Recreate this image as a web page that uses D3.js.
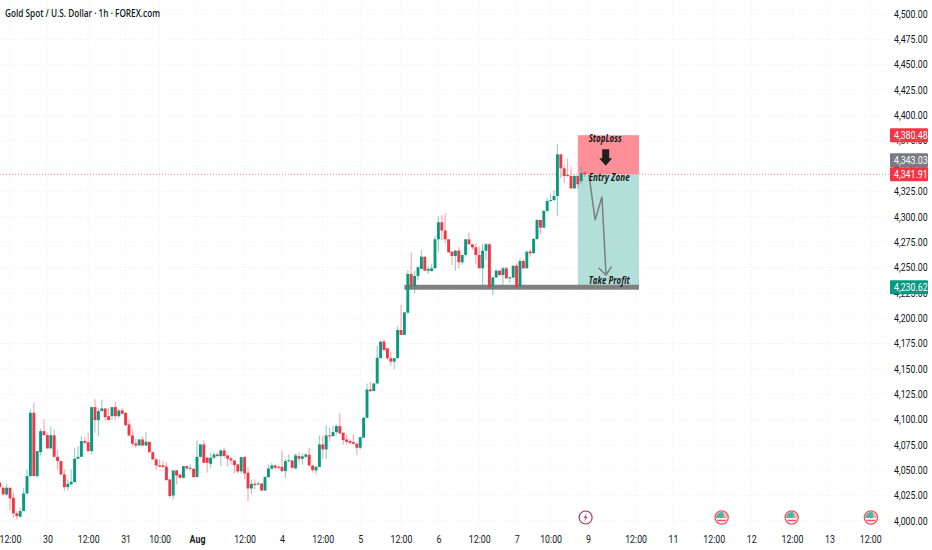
<!DOCTYPE html>
<html><head><meta charset="utf-8">
<script src="https://d3js.org/d3.v7.min.js"></script>
<style>
html,body{margin:0;padding:0;background:#fff;overflow:hidden}
svg{display:block}
.ax text{font-family:"Roboto","Open Sans",sans-serif;font-size:10px;fill:#131722}
.note{font-family:"Open Sans",sans-serif;font-style:italic;font-weight:700;font-size:10px;fill:#1a1a1a}
</style></head><body>
<svg id="c" width="932" height="550"></svg>
<script>
const title = "Gold Spot / U.S. Dollar · 1h · FOREX.com";
const firstIndex = -3;
const opens = [4037.7,4032.8,4026.2,4032.8,4022.9,4007.5,4004.2,4009.8,4027.2,4044.3,4106.7,4044.3,4067.9,4088.6,4084.7,4071.6,4084.4,4063.3,4059.1,4045.9,4033.4,4036.1,4038.4,4061.4,4063.3,4078.8,4077.8,4068.9,4112.3,4099.5,4108.4,4111,4103.4,4103.4,4112.3,4103.4,4109,4106.7,4095.2,4084.4,4076.5,4074.5,4080.4,4074.5,4078.1,4067.9,4060.7,4054.8,4054.8,4053.5,4041,4025.2,4049.9,4045.9,4042.6,4054.1,4051.5,4051.5,4043.3,4063.3,4075.5,4062.4,4056.4,4062.4,4065.6,4064,4069.6,4064.7,4061.7,4059.7,4055.8,4048.9,4063,4047.6,4032.1,4036.7,4036.4,4037,4030.1,4043.3,4051.5,4054.8,4053.5,4053.5,4049.2,4059.4,4059.7,4051.8,4064,4061.4,4063.3,4065.3,4054.8,4049.9,4053.2,4075.5,4070.6,4084.4,4083.7,4087.7,4093.6,4087,4080.4,4078.8,4077.8,4076.2,4072.2,4082.1,4101.8,4129.7,4128.1,4135.6,4160.5,4176.9,4170.3,4160.5,4157.2,4160.5,4188.4,4183.5,4205.5,4243.6,4231.8,4241.7,4248.6,4260.7,4246.9,4246.6,4249.2,4277.8,4294.6,4286.4,4277.8,4265.7,4261.4,4266.6,4255.1,4262.4,4277.8,4272.9,4269.9,4262.4,4249.2,4266.6,4272.9,4231.8,4240.3,4246.9,4242.6,4249.2,4239.1,4240,4251.8,4231.8,4256.4,4249.2,4265.7,4264,4278.1,4296.9,4289.3,4305.8,4315.6,4316.5,4320.5,4361.6,4347.8,4341.2,4340.2,4328,4340.2,4335.3,4343.5];
const highs = [4039.3,4033.8,4036.7,4032.8,4027.8,4009.8,4013.1,4032.8,4050.9,4110,4116.6,4068.9,4090.9,4100.2,4087,4092.9,4090.3,4070.6,4059.1,4050.9,4041,4050.9,4072.2,4073.9,4083.7,4083.1,4087,4112.3,4120.5,4111.7,4119.9,4111,4111.7,4112.3,4117.6,4111,4111.7,4106.7,4100.2,4090.9,4081.1,4081.1,4083.1,4087.7,4078.1,4067.9,4062.4,4060.7,4059.7,4058.1,4041,4049.9,4050.9,4045.9,4054.1,4054.8,4055.8,4052.5,4079.4,4075.5,4079.4,4063.3,4067.3,4067.9,4067.3,4070.6,4072.2,4064.7,4063,4059.7,4055.8,4063.3,4064,4053.5,4041,4041,4038.7,4037,4044.3,4055.8,4057.4,4055.8,4054.8,4069.6,4061.4,4065.6,4059.7,4066.6,4067.9,4066.6,4066.6,4072.2,4054.8,4054.1,4084.4,4084.4,4094.2,4091.9,4093.6,4095.2,4106.7,4087,4085.4,4080.4,4085.4,4077.1,4082.7,4102.8,4135.6,4137,4136.3,4172.6,4177.9,4179.2,4170.3,4167,4160.5,4192.4,4213,4205.8,4247.6,4265,4246.9,4251.8,4267.3,4260.7,4250.9,4253.5,4281.1,4300.2,4301.8,4303.5,4277.8,4265.7,4267.3,4270.6,4262.4,4277.8,4284.4,4272.9,4273.9,4270.6,4273.9,4274.5,4273.9,4241,4248.2,4247.6,4250.9,4250.9,4241,4251.8,4254.1,4259.1,4258.1,4265.7,4268.3,4278.8,4297.5,4296.9,4306.7,4318.2,4323.1,4326.4,4371.8,4361.6,4351.7,4357.6,4349.4,4341.9,4341.2,4349.4,4344.5];
const lows = [4032.8,4025.5,4024.6,4010.7,4003.2,4001.5,4004.2,4009.8,4026.2,4043.6,4043.6,4042.6,4064.7,4083.7,4071.6,4071.6,4062.4,4050.9,4044.9,4029.5,4030.1,4036.1,4037.7,4061.4,4063.3,4075.5,4068.3,4065.6,4087,4083.7,4108.4,4099.2,4099.5,4099.5,4100.2,4101.8,4105.1,4093.6,4083.1,4073.9,4072.2,4073.9,4073.9,4073.9,4067.3,4060.1,4050.9,4053.5,4052.5,4040,4022.9,4021.3,4036.1,4042,4042,4049.2,4049.2,4042.6,4043.3,4062.4,4056.8,4047.6,4052.5,4060.7,4063.3,4054.1,4062.4,4053.5,4055.8,4046.9,4046.9,4046.6,4041.6,4019.6,4026.2,4031.1,4035.1,4029.5,4030.1,4042.6,4050.9,4050.9,4051.5,4048.2,4042.6,4057.4,4051.5,4051.8,4057.4,4055.8,4062.4,4054.1,4047.6,4045.9,4053.2,4061.4,4061.4,4078.8,4083.1,4085.4,4085.4,4075.5,4075.5,4075.5,4075.5,4065.6,4070.6,4082.1,4101.1,4127.1,4128.1,4135.6,4160.5,4167,4158.8,4153.2,4149.9,4160.5,4183.5,4183.5,4203.9,4231.8,4224.6,4237.1,4248.6,4246.9,4243.6,4245.9,4249.2,4264.7,4277.2,4273.9,4264,4252.5,4246.9,4249.2,4252.5,4260.7,4272.2,4267.3,4253.5,4249.2,4230.5,4257.4,4229.5,4222.9,4239.4,4241.7,4232.8,4238.7,4234.4,4239.4,4229.5,4231.1,4248.2,4249.2,4260.7,4264,4277.2,4282.7,4288.7,4305.1,4314.9,4315.6,4301.1,4337.9,4333,4339.6,4328,4328,4328,4332.6,4339.6];
const closes = [4033.4,4026.2,4032.8,4022.3,4007.5,4004.8,4009.8,4027.2,4044.3,4106.7,4044.3,4068.9,4088.6,4084.7,4071.6,4084.7,4063.3,4059.1,4045.9,4033.4,4036.7,4038.7,4061.4,4063.3,4078.8,4077.1,4068.9,4112.3,4099.5,4108.4,4111,4102.5,4099.5,4112.3,4103.4,4109,4105.7,4094.6,4084.4,4076.2,4074.5,4080.4,4074.5,4078.1,4067.9,4060.7,4054.8,4053.5,4053.2,4040.3,4024.6,4049.9,4044.9,4042.6,4054.1,4051.8,4052.5,4043.3,4063.3,4075.5,4057.4,4057.4,4062.4,4065.6,4064,4069.6,4064,4061.4,4059.7,4055.1,4048.9,4063,4046.9,4032.1,4036.7,4035.4,4037,4030.1,4043.3,4051.8,4054.8,4052.5,4052.8,4049.2,4059.1,4060,4052.5,4064.7,4061.4,4063.7,4065.6,4054.8,4050.2,4053.5,4075.5,4070.6,4084.4,4083.7,4087.7,4093.6,4086.4,4079.8,4078.1,4077.1,4076.2,4072.2,4082.7,4101.8,4129.7,4128.1,4135.6,4161,4176.9,4168.7,4160.5,4157.2,4160.5,4188.4,4183.5,4205.8,4243.6,4231.8,4241.7,4250.2,4260.7,4246.9,4248.6,4249.2,4277.8,4294.6,4286.4,4277.8,4265,4261.4,4266.6,4255.1,4262.4,4277.8,4272.9,4269.9,4262.4,4249.2,4266.6,4272.9,4230.5,4240.3,4246.9,4242.6,4249.2,4239.4,4240.3,4251.8,4230.5,4256.4,4249.2,4265.7,4264,4278.1,4296.9,4289.3,4305.8,4315.6,4316.5,4320.5,4361.6,4347.8,4340.2,4340.2,4328,4340.2,4332,4342.8,4341.9];

const priceTicks = d3.range(4000, 4501, 25);
const timeTickIndex = [0,11,23,34,44,55,69,80,92,103,115,126,138,149,159,170,184,195,207,218,230,241,253];
const timeTickLabels = ["12:00","30","12:00","31","10:00","Aug","12:00","4","12:00","5","12:00","6","12:00","7","10:00","9","12:00","11","12:00","12","12:00","13","12:00"];

const stopPrice = 4380.48, entryPrice = 4341.91, targetPrice = 4230.62, lastPrice = 4341.91, smaPrice = 4343.03;
const boxStart = 167, boxEnd = 185, supportStart = 116;
const pathIndex = [170.3,172.1,174.1,175.3];
const pathPrice = [4341.2,4296.8,4319.8,4242.6];
const headIndex = [173.1,175.3,176.9];
const headPrice = [4249.8,4242.6,4250.8];
const flagEvents = [209.3,229.9,253.2];
const boltEvents = [169.3];

const GREEN="#089981", RED="#f23645", GRID="#eceef3";
const svg=d3.select("#c");
const x=d3.scaleLinear().domain([0,100]).range([10,350]);
const y=d3.scaleLinear().domain([4000,4500]).range([521,14]);
const plotR=890, plotB=529;
const squeeze=(sel,f)=>sel.each(function(){
  this.setAttribute("textLength",this.getComputedTextLength()*f);
  this.setAttribute("lengthAdjust","spacingAndGlyphs");
});

const gridG=svg.append("g");
gridG.selectAll(".h").data(priceTicks).join("line").attr("x1",0).attr("x2",plotR)
 .attr("y1",d=>y(d)).attr("y2",d=>y(d)).attr("stroke",GRID).attr("stroke-dasharray","1 2");
gridG.selectAll(".v").data(timeTickIndex).join("line").attr("y1",0).attr("y2",plotB)
 .attr("x1",d=>x(d)).attr("x2",d=>x(d)).attr("stroke",GRID).attr("stroke-dasharray","1 2");

// position box
svg.append("rect").attr("x",x(boxStart)).attr("width",x(boxEnd)-x(boxStart)).attr("y",y(stopPrice)).attr("height",y(entryPrice)-y(stopPrice)).attr("fill","#fe8f98");
svg.append("rect").attr("x",x(boxStart)).attr("width",x(boxEnd)-x(boxStart)).attr("y",y(entryPrice)).attr("height",y(targetPrice)-y(entryPrice)).attr("fill","#b2e0d8");
// support
svg.append("line").attr("x1",x(supportStart)).attr("x2",x(boxEnd)).attr("y1",y(targetPrice)).attr("y2",y(targetPrice)).attr("stroke","#808080").attr("stroke-width",5);

const bars=opens.map((o,k)=>({i:firstIndex+k,o,h:highs[k],l:lows[k],c:closes[k]}));
const col=d=>d.c>=d.o?GREEN:RED;
const cg=svg.append("g");
cg.selectAll("line").data(bars).join("line").attr("x1",d=>x(d.i)).attr("x2",d=>x(d.i))
 .attr("y1",d=>y(d.h)).attr("y2",d=>y(d.l)).attr("stroke",col).attr("stroke-width",1.2).attr("stroke-opacity",.42);
cg.selectAll("rect").data(bars).join("rect").attr("x",d=>x(d.i)-1.45).attr("width",2.9)
 .attr("y",d=>y(Math.max(d.o,d.c))).attr("height",d=>Math.max(1,Math.abs(y(d.o)-y(d.c)))).attr("fill",col);

// last price line
svg.append("line").attr("x1",0).attr("x2",plotR).attr("y1",y(lastPrice)).attr("y2",y(lastPrice)).attr("stroke",RED).attr("stroke-opacity",.6).attr("stroke-dasharray","1 2");

// drawn path
const ln=d3.line().x(d=>x(d[0])).y(d=>y(d[1]));
svg.append("path").attr("d",ln(pathIndex.map((d,k)=>[d,pathPrice[k]]))).attr("fill","none").attr("stroke","#7d7d7d").attr("stroke-width",1.5);
svg.append("path").attr("d",ln(headIndex.map((d,k)=>[d,headPrice[k]]))).attr("fill","none").attr("stroke","#7d7d7d").attr("stroke-width",1.5);

// black arrow
const ax=x(175.2), at=y(stopPrice)+14, am=at+9, ab=at+16.5;
svg.append("path").attr("d",`M${ax-3.5},${at}H${ax+3.5}V${am}H${ax+6.5}L${ax},${ab}L${ax-6.5},${am}H${ax-3.5}Z`).attr("fill","#1f1f1f");

const noteX=x(170.2);
const notes=[["StopLoss",stopPrice,6.5,33],["Entry Zone",entryPrice,7,41],["Take Profit",targetPrice,-3.5,41]];
notes.forEach(([t,p,dy,w])=>{
 svg.append("text").attr("class","note").attr("x",noteX).attr("y",y(p)+dy).attr("textLength",w).attr("lengthAdjust","spacingAndGlyphs").text(t);
});

// axes
const yAxis=d3.axisRight(y).tickValues(priceTicks).tickSize(0).tickPadding(0).tickFormat(d3.format(",.2f"));
svg.append("g").attr("class","ax").attr("transform","translate(894,0)").call(yAxis).call(g=>g.select(".domain").remove())
 .call(g=>squeeze(g.selectAll("text"),.88));
const xAxis=d3.axisBottom(x).tickValues(timeTickIndex).tickSize(0).tickPadding(0).tickFormat((d,k)=>timeTickLabels[k]);
svg.append("g").attr("class","ax").attr("transform","translate(0,535.5)").call(xAxis).call(g=>g.select(".domain").remove())
 .call(g=>g.selectAll("text").filter(t=>t===55).attr("font-weight",700))
 .call(g=>squeeze(g.selectAll("text"),.88));

// price tags
[[stopPrice,RED,0],[smaPrice,"#787b86",-13],[lastPrice,RED,0],[targetPrice,GREEN,0]].forEach(([p,c,off])=>{
 const cy=y(p)+off;
 svg.append("rect").attr("x",890).attr("width",38).attr("y",cy-7).attr("height",14).attr("rx",1).attr("fill",c);
 const t=svg.append("text").attr("x",894).attr("y",cy+3.6).attr("fill","#fff")
  .style("font-family",'Roboto,sans-serif').style("font-size","10px").text(d3.format(",.2f")(p));
 squeeze(t,.88);
});

// title
svg.append("text").attr("x",5).attr("y",16.5).attr("textLength",155).attr("lengthAdjust","spacingAndGlyphs").style("font-family",'"Open Sans",sans-serif').style("font-weight",600).style("font-size","11px").attr("fill","#131722").text(title);

// events
const ey=517.5;
boltEvents.forEach(i=>{
 const g=svg.append("g").attr("transform",`translate(${x(i)},${ey})`);
 g.append("circle").attr("r",6.5).attr("fill","#fff").attr("stroke","#a8355c").attr("stroke-width",1.2);
 g.append("path").attr("d","M1.5,-4.5L-2.2,0.6H0L-1.5,4.5L2.2,-0.8H0Z").attr("fill","#c2466a");
});
const defs=svg.append("defs");
defs.append("clipPath").attr("id","fc").append("circle").attr("r",5.4);
flagEvents.forEach(i=>{
 const g=svg.append("g").attr("transform",`translate(${x(i)},${ey})`);
 g.append("circle").attr("r",6.6).attr("fill","#fff").attr("stroke","#f2525f").attr("stroke-width",1.3);
 const f=g.append("g").attr("clip-path","url(#fc)");
 f.append("rect").attr("x",-6).attr("y",-6).attr("width",12).attr("height",6.5).attr("fill","#f7a8ad");
 f.append("rect").attr("x",-6).attr("y",-6).attr("width",8).attr("height",6.5).attr("fill","#4bb5a4");
 f.append("rect").attr("x",-6).attr("y",2.2).attr("width",12).attr("height",1.6).attr("fill","#f2525f");
});
</script>
</body></html>
